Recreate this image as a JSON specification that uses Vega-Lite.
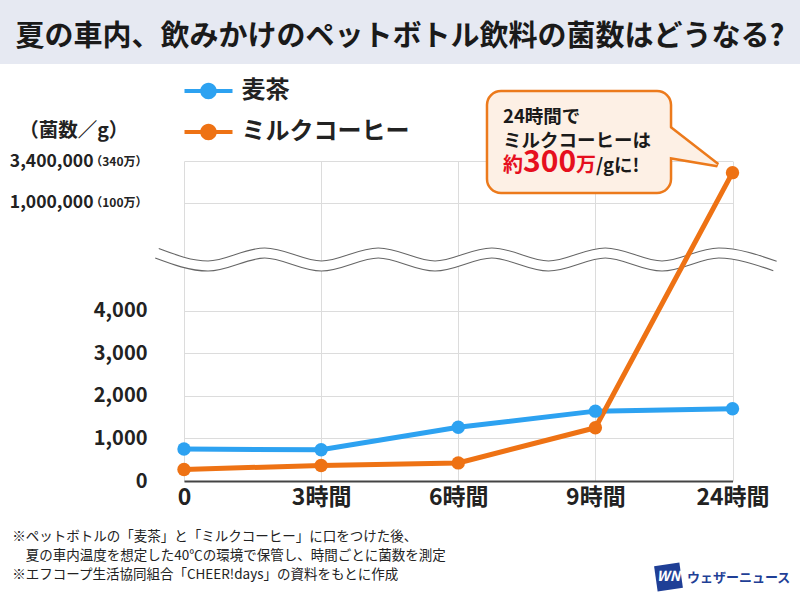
{
  "$schema": "https://vega.github.io/schema/vega-lite/v6.json",
  "width": 618,
  "height": 320,
  "autosize": {"type": "none"},
  "padding": {"left": 155, "top": 161, "right": 27, "bottom": 119},
  "background": "white",
  "config": {"view": {"stroke": null}, "font": "Noto Sans CJK JP"},
  "title": {
    "text": "夏の車内、飲みかけのペットボトル飲料の菌数はどうなる?",
    "anchor": "middle",
    "frame": "group",
    "dx": -64,
    "offset": -54,
    "fontSize": 29,
    "font": "Noto Sans CJK JP",
    "fontWeight": "bold",
    "color": "#1a1a1a"
  },
  "datasets": {
    "counts": [
      {"time": "0", "series": "麦茶", "count": 750},
      {"time": "3時間", "series": "麦茶", "count": 735},
      {"time": "6時間", "series": "麦茶", "count": 1260},
      {"time": "9時間", "series": "麦茶", "count": 1640},
      {"time": "24時間", "series": "麦茶", "count": 1695},
      {"time": "0", "series": "ミルクコーヒー", "count": 270},
      {"time": "3時間", "series": "ミルクコーヒー", "count": 365},
      {"time": "6時間", "series": "ミルクコーヒー", "count": 425},
      {"time": "9時間", "series": "ミルクコーヒー", "count": 1250},
      {"time": "24時間", "series": "ミルクコーヒー", "count": 2730000}
    ],
    "band": [{"u0": -25.2, "u1": 104.5, "v0": 130.3, "v1": 151}],
    "wave": [
      {"u": 0.32, "v": 71.15}, {"u": 8.58, "v": 67.19}, {"u": 17.76, "v": 71.25},
      {"u": 26.94, "v": 67.19}, {"u": 36.13, "v": 71.25}, {"u": 45.31, "v": 67.19},
      {"u": 54.49, "v": 71.25}, {"u": 63.67, "v": 67.19}, {"u": 72.86, "v": 71.25},
      {"u": 82.04, "v": 67.19}, {"u": 91.22, "v": 71.25}, {"u": 100.32, "v": 67.19}
    ],
    "box": [{"u0": 53.72, "u1": 83.5, "v0": 90.0, "v1": 121.88}],
    "tail": [
      {"u": 82.69, "v": 111.28, "v2": 101.47},
      {"u": 91.02, "v": 98.75, "v2": 98.75}
    ],
    "calloutBlack": [
      {"u": 56.31, "v": 111.72, "text": "24時間で"},
      {"u": 56.31, "v": 104.38, "text": "ミルクコーヒーは"},
      {"u": 71.36, "v": 96.41, "text": "/gに!"}
    ],
    "calloutRed": [
      {"u": 56.31, "v": 96.41, "text": "約"},
      {"u": 68.12, "v": 96.41, "text": "万"}
    ],
    "calloutBig": [{"u": 59.55, "v": 96.41, "text": "300"}],
    "logoMark": [{"u": 83.09, "v": -30.0, "text": "WN"}],
    "logoText": [{"u": 86.08, "v": -30.31, "text": "ウェザーニュース"}]
  },
  "layer": [
    {
      "data": {"name": "band"},
      "mark": {"type": "rect", "color": "#e6e9f2"},
      "encoding": {
        "x": {"field": "u0", "type": "quantitative", "scale": {"domain": [0, 100], "nice": false, "zero": false}, "axis": null},
        "x2": {"field": "u1"},
        "y": {"field": "v0", "type": "quantitative", "scale": {"domain": [0, 100], "nice": false, "zero": false}, "axis": null},
        "y2": {"field": "v1"}
      }
    },
    {
      "data": {"name": "wave"},
      "mark": {"type": "line", "interpolate": "monotone", "color": "#666666", "strokeWidth": 11.2, "strokeCap": "butt"},
      "encoding": {
        "x": {"field": "u", "type": "quantitative", "scale": {"domain": [0, 100], "nice": false, "zero": false}, "axis": null},
        "y": {"field": "v", "type": "quantitative", "scale": {"domain": [0, 100], "nice": false, "zero": false}, "axis": null}
      }
    },
    {
      "data": {"name": "wave"},
      "mark": {"type": "line", "interpolate": "monotone", "color": "#ffffff", "strokeWidth": 9, "strokeCap": "square"},
      "encoding": {
        "x": {"field": "u", "type": "quantitative", "scale": {"domain": [0, 100], "nice": false, "zero": false}, "axis": null},
        "y": {"field": "v", "type": "quantitative", "scale": {"domain": [0, 100], "nice": false, "zero": false}, "axis": null}
      }
    },
    {
      "data": {"name": "counts"},
      "mark": {"type": "line", "strokeWidth": 5},
      "encoding": {
        "x": {
          "field": "time", "type": "ordinal",
          "sort": ["0", "3時間", "6時間", "9時間", "24時間"],
          "scale": {"type": "point", "range": [29, 577.5], "padding": 0},
          "axis": {
            "labelAngle": 0, "labelFontSize": 23, "labelFont": "Noto Sans CJK JP", "labelFontWeight": "bold",
            "labelColor": "#222222", "labelPadding": 5,
            "domain": true, "domainColor": "#444444", "domainWidth": 2,
            "ticks": false, "grid": true, "gridColor": "#dcdcdc", "gridWidth": 1,
            "title": [
              "※ペットボトルの「麦茶」と「ミルクコーヒー」に口をつけた後、",
              "\u200b\u3000夏の車内温度を想定した40℃の環境で保管し、時間ごとに菌数を測定",
              "※エフコープ生活協同組合「CHEER!days」の資料をもとに作成"
            ],
            "titleFont": "Noto Sans CJK JP", "titleFontSize": 13.5, "titleFontWeight": "normal", "titleColor": "#222222",
            "titleAlign": "left", "titleAnchor": "start", "titleX": -143.3, "titleY": 55,
            "titleBaseline": "middle", "titleLineHeight": 19
          }
        },
        "y": {
          "field": "count", "type": "quantitative",
          "scale": {"domain": [0, 4000, 1000000, 3400000], "range": [320, 149.6, 41.7, 0], "nice": false, "zero": false},
          "axis": {
            "values": [0, 1000, 2000, 3000, 4000, 1000000, 3400000],
            "labelExpr": "datum.value >= 3000000 ? '（340万）' : (datum.value >= 1000000 ? '（100万）' : format(datum.value, ','))",
            "labelFontSize": {"condition": {"test": "datum.value >= 1000000", "value": 12}, "value": 20},
            "labelFont": "Noto Sans CJK JP", "labelFontWeight": "bold", "labelColor": "#222222",
            "labelPadding": 8, "labelOverlap": false, "labelFlush": false, "labelBound": false,
            "domain": false, "ticks": false,
            "grid": true, "gridColor": "#dcdcdc", "gridWidth": 1,
            "title": "（菌数／g）", "titleAngle": 0, "titleX": -81.7, "titleY": -30.3,
            "titleAlign": "center", "titleBaseline": "middle",
            "titleFont": "Noto Sans CJK JP", "titleFontSize": 19.5, "titleFontWeight": "bold", "titleColor": "#222222"
          }
        },
        "color": {
          "field": "series", "type": "nominal",
          "scale": {"domain": ["麦茶", "ミルクコーヒー"], "range": ["#2da2f1", "#ee7214"]},
          "legend": {
            "title": null, "orient": "none", "legendX": 41.5, "legendY": -82, "direction": "vertical",
            "symbolType": "M-2,-0.17H2V0.17H-2Z M-0.69,0A0.69,0.69 0 1 1 0.69,0A0.69,0.69 0 1 1 -0.69,0Z",
            "symbolSize": 576, "symbolStrokeWidth": 0,
            "labelFont": "Noto Sans CJK JP", "labelFontSize": 24, "labelFontWeight": "bold", "labelColor": "#222222",
            "labelOffset": 21, "labelLimit": 400, "rowPadding": 17, "padding": 0,
            "encode": {"symbols": {"update": {"fill": {"scale": "color", "field": "value"}, "opacity": {"value": 1}, "strokeWidth": {"value": 0}}}}
          }
        }
      }
    },
    {
      "data": {"name": "counts"},
      "mark": {"type": "point", "filled": true, "size": 180, "opacity": 1},
      "encoding": {
        "x": {
          "field": "time", "type": "ordinal",
          "sort": ["0", "3時間", "6時間", "9時間", "24時間"],
          "scale": {"type": "point", "range": [29, 577.5], "padding": 0},
          "axis": null
        },
        "y": {
          "field": "count", "type": "quantitative",
          "scale": {"domain": [0, 4000, 1000000, 3400000], "range": [320, 149.6, 41.7, 0], "nice": false, "zero": false},
          "axis": {
            "orient": "left", "values": [1000000, 3400000],
            "labelExpr": "format(datum.value, ',')",
            "labelFontSize": 17.5, "labelFont": "Noto Sans CJK JP", "labelFontWeight": "bold", "labelColor": "#222222",
            "labelPadding": 62, "labelOverlap": false, "labelFlush": false, "labelBound": false,
            "domain": false, "ticks": false, "grid": false, "title": null
          }
        },
        "color": {
          "field": "series", "type": "nominal",
          "scale": {"domain": ["麦茶", "ミルクコーヒー"], "range": ["#2da2f1", "#ee7214"]},
          "legend": {
            "title": null, "orient": "none", "legendX": 41.5, "legendY": -82, "direction": "vertical",
            "symbolType": "M-2,-0.17H2V0.17H-2Z M-0.69,0A0.69,0.69 0 1 1 0.69,0A0.69,0.69 0 1 1 -0.69,0Z",
            "symbolSize": 576, "symbolStrokeWidth": 0,
            "labelFont": "Noto Sans CJK JP", "labelFontSize": 24, "labelFontWeight": "bold", "labelColor": "#222222",
            "labelOffset": 21, "labelLimit": 400, "rowPadding": 17, "padding": 0,
            "encode": {"symbols": {"update": {"fill": {"scale": "color", "field": "value"}, "opacity": {"value": 1}, "strokeWidth": {"value": 0}}}}
          }
        }
      }
    },
    {
      "data": {"name": "tail"},
      "mark": {"type": "area", "fill": "#fdf0e5", "stroke": "#ec7a1c", "strokeWidth": 5},
      "encoding": {
        "x": {"field": "u", "type": "quantitative", "scale": {"domain": [0, 100], "nice": false, "zero": false}, "axis": null},
        "y": {"field": "v", "type": "quantitative", "scale": {"domain": [0, 100], "nice": false, "zero": false}, "axis": null},
        "y2": {"field": "v2"}
      }
    },
    {
      "data": {"name": "box"},
      "mark": {"type": "rect", "fill": "#fdf0e5", "stroke": "#ec7a1c", "strokeWidth": 2.5, "cornerRadius": 14},
      "encoding": {
        "x": {"field": "u0", "type": "quantitative", "scale": {"domain": [0, 100], "nice": false, "zero": false}, "axis": null},
        "x2": {"field": "u1"},
        "y": {"field": "v0", "type": "quantitative", "scale": {"domain": [0, 100], "nice": false, "zero": false}, "axis": null},
        "y2": {"field": "v1"}
      }
    },
    {
      "data": {"name": "tail"},
      "mark": {"type": "area", "fill": "#fdf0e5", "strokeWidth": 0},
      "encoding": {
        "x": {"field": "u", "type": "quantitative", "scale": {"domain": [0, 100], "nice": false, "zero": false}, "axis": null},
        "y": {"field": "v", "type": "quantitative", "scale": {"domain": [0, 100], "nice": false, "zero": false}, "axis": null},
        "y2": {"field": "v2"}
      }
    },
    {
      "data": {"name": "calloutBlack"},
      "mark": {"type": "text", "align": "left", "baseline": "alphabetic", "font": "Noto Sans CJK JP", "fontWeight": "bold", "fontSize": 18.5, "color": "#1a1a1a"},
      "encoding": {
        "x": {"field": "u", "type": "quantitative", "scale": {"domain": [0, 100], "nice": false, "zero": false}, "axis": null},
        "y": {"field": "v", "type": "quantitative", "scale": {"domain": [0, 100], "nice": false, "zero": false}, "axis": null},
        "text": {"field": "text"}
      }
    },
    {
      "data": {"name": "calloutRed"},
      "mark": {"type": "text", "align": "left", "baseline": "alphabetic", "font": "Noto Sans CJK JP", "fontWeight": "bold", "fontSize": 20, "color": "#e60f1e"},
      "encoding": {
        "x": {"field": "u", "type": "quantitative", "scale": {"domain": [0, 100], "nice": false, "zero": false}, "axis": null},
        "y": {"field": "v", "type": "quantitative", "scale": {"domain": [0, 100], "nice": false, "zero": false}, "axis": null},
        "text": {"field": "text"}
      }
    },
    {
      "data": {"name": "calloutBig"},
      "mark": {"type": "text", "align": "left", "baseline": "alphabetic", "font": "Noto Sans CJK JP", "fontWeight": "bold", "fontSize": 30, "color": "#e60f1e"},
      "encoding": {
        "x": {"field": "u", "type": "quantitative", "scale": {"domain": [0, 100], "nice": false, "zero": false}, "axis": null},
        "y": {"field": "v", "type": "quantitative", "scale": {"domain": [0, 100], "nice": false, "zero": false}, "axis": null},
        "text": {"field": "text"}
      }
    },
    {
      "data": {"name": "logoMark"},
      "mark": {"type": "point", "shape": "square", "filled": true, "size": 650, "angle": -8, "color": "#1f3f96", "opacity": 1},
      "encoding": {
        "x": {"field": "u", "type": "quantitative", "scale": {"domain": [0, 100], "nice": false, "zero": false}, "axis": null},
        "y": {"field": "v", "type": "quantitative", "scale": {"domain": [0, 100], "nice": false, "zero": false}, "axis": null}
      }
    },
    {
      "data": {"name": "logoMark"},
      "mark": {"type": "text", "align": "center", "baseline": "middle", "font": "Noto Sans CJK JP", "fontWeight": "bold", "fontStyle": "italic", "fontSize": 14, "color": "#ffffff"},
      "encoding": {
        "x": {"field": "u", "type": "quantitative", "scale": {"domain": [0, 100], "nice": false, "zero": false}, "axis": null},
        "y": {"field": "v", "type": "quantitative", "scale": {"domain": [0, 100], "nice": false, "zero": false}, "axis": null},
        "text": {"field": "text"}
      }
    },
    {
      "data": {"name": "logoText"},
      "mark": {"type": "text", "align": "left", "baseline": "middle", "font": "Noto Sans CJK JP", "fontWeight": "bold", "fontSize": 13, "color": "#1f3f96"},
      "encoding": {
        "x": {"field": "u", "type": "quantitative", "scale": {"domain": [0, 100], "nice": false, "zero": false}, "axis": null},
        "y": {"field": "v", "type": "quantitative", "scale": {"domain": [0, 100], "nice": false, "zero": false}, "axis": null},
        "text": {"field": "text"}
      }
    }
  ],
  "resolve": {"scale": {"x": "independent", "y": "independent"}}
}
